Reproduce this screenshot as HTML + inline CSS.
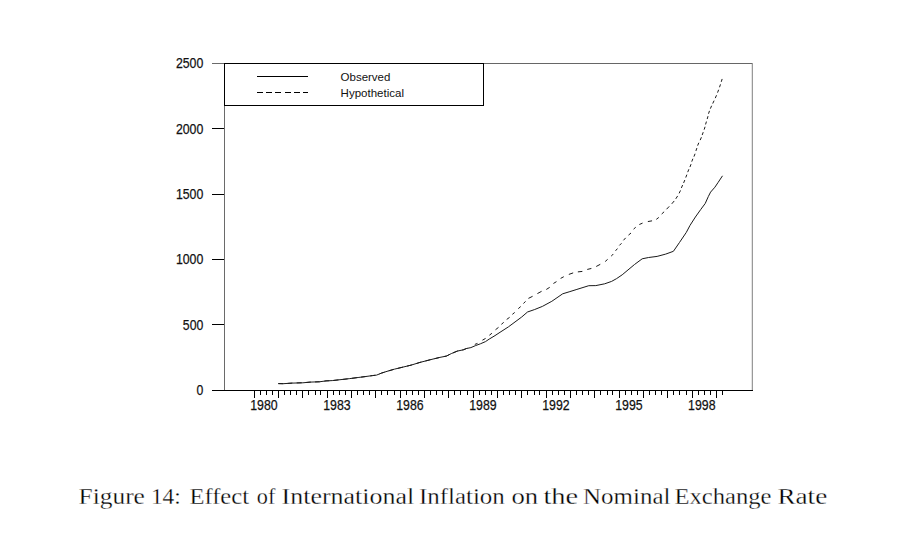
<!DOCTYPE html>
<html><head><meta charset="utf-8"><style>
html,body{margin:0;padding:0;background:#fff;}
body{width:910px;height:554px;overflow:hidden;position:relative;}
svg{position:absolute;left:0;top:0;}
</style></head><body>
<svg width="910" height="554" viewBox="0 0 910 554">
<g shape-rendering="crispEdges" stroke-width="1" fill="none">
<line x1="224.5" y1="63" x2="224.5" y2="390" stroke="#6a6a6a"/>
<line x1="224" y1="63.5" x2="753" y2="63.5" stroke="#666"/>
<line x1="752.5" y1="63" x2="752.5" y2="390" stroke="#999"/>
<line x1="751.5" y1="64" x2="751.5" y2="390" stroke="#e4e4e4"/>
<line x1="212" y1="390.5" x2="753" y2="390.5" stroke="#000"/>
<g stroke="#000">
<line x1="212" y1="63.5" x2="224" y2="63.5" stroke="#6a6a6a"/>
<line x1="212" y1="128.5" x2="224" y2="128.5"/>
<line x1="212" y1="194.5" x2="224" y2="194.5"/>
<line x1="212" y1="259.5" x2="224" y2="259.5"/>
<line x1="212" y1="324.5" x2="224" y2="324.5"/>
<line x1="212" y1="390.5" x2="224" y2="390.5"/>
<line x1="254.5" y1="390" x2="254.5" y2="398"/>
<line x1="260.5" y1="390" x2="260.5" y2="395"/>
<line x1="266.5" y1="390" x2="266.5" y2="395"/>
<line x1="272.5" y1="390" x2="272.5" y2="395"/>
<line x1="278.5" y1="390" x2="278.5" y2="398"/>
<line x1="284.5" y1="390" x2="284.5" y2="395"/>
<line x1="290.5" y1="390" x2="290.5" y2="395"/>
<line x1="296.5" y1="390" x2="296.5" y2="395"/>
<line x1="302.5" y1="390" x2="302.5" y2="398"/>
<line x1="308.5" y1="390" x2="308.5" y2="395"/>
<line x1="315.5" y1="390" x2="315.5" y2="395"/>
<line x1="320.5" y1="390" x2="320.5" y2="395"/>
<line x1="327.5" y1="390" x2="327.5" y2="398"/>
<line x1="333.5" y1="390" x2="333.5" y2="395"/>
<line x1="339.5" y1="390" x2="339.5" y2="395"/>
<line x1="345.5" y1="390" x2="345.5" y2="395"/>
<line x1="351.5" y1="390" x2="351.5" y2="398"/>
<line x1="357.5" y1="390" x2="357.5" y2="395"/>
<line x1="363.5" y1="390" x2="363.5" y2="395"/>
<line x1="369.5" y1="390" x2="369.5" y2="395"/>
<line x1="375.5" y1="390" x2="375.5" y2="398"/>
<line x1="381.5" y1="390" x2="381.5" y2="395"/>
<line x1="387.5" y1="390" x2="387.5" y2="395"/>
<line x1="394.5" y1="390" x2="394.5" y2="395"/>
<line x1="400.5" y1="390" x2="400.5" y2="398"/>
<line x1="406.5" y1="390" x2="406.5" y2="395"/>
<line x1="412.5" y1="390" x2="412.5" y2="395"/>
<line x1="418.5" y1="390" x2="418.5" y2="395"/>
<line x1="424.5" y1="390" x2="424.5" y2="398"/>
<line x1="430.5" y1="390" x2="430.5" y2="395"/>
<line x1="436.5" y1="390" x2="436.5" y2="395"/>
<line x1="442.5" y1="390" x2="442.5" y2="395"/>
<line x1="448.5" y1="390" x2="448.5" y2="398"/>
<line x1="454.5" y1="390" x2="454.5" y2="395"/>
<line x1="460.5" y1="390" x2="460.5" y2="395"/>
<line x1="467.5" y1="390" x2="467.5" y2="395"/>
<line x1="473.5" y1="390" x2="473.5" y2="398"/>
<line x1="479.5" y1="390" x2="479.5" y2="395"/>
<line x1="485.5" y1="390" x2="485.5" y2="395"/>
<line x1="491.5" y1="390" x2="491.5" y2="395"/>
<line x1="497.5" y1="390" x2="497.5" y2="398"/>
<line x1="503.5" y1="390" x2="503.5" y2="395"/>
<line x1="509.5" y1="390" x2="509.5" y2="395"/>
<line x1="515.5" y1="390" x2="515.5" y2="395"/>
<line x1="521.5" y1="390" x2="521.5" y2="398"/>
<line x1="527.5" y1="390" x2="527.5" y2="395"/>
<line x1="534.5" y1="390" x2="534.5" y2="395"/>
<line x1="539.5" y1="390" x2="539.5" y2="395"/>
<line x1="546.5" y1="390" x2="546.5" y2="398"/>
<line x1="552.5" y1="390" x2="552.5" y2="395"/>
<line x1="558.5" y1="390" x2="558.5" y2="395"/>
<line x1="564.5" y1="390" x2="564.5" y2="395"/>
<line x1="570.5" y1="390" x2="570.5" y2="398"/>
<line x1="576.5" y1="390" x2="576.5" y2="395"/>
<line x1="582.5" y1="390" x2="582.5" y2="395"/>
<line x1="588.5" y1="390" x2="588.5" y2="395"/>
<line x1="594.5" y1="390" x2="594.5" y2="398"/>
<line x1="600.5" y1="390" x2="600.5" y2="395"/>
<line x1="607.5" y1="390" x2="607.5" y2="395"/>
<line x1="612.5" y1="390" x2="612.5" y2="395"/>
<line x1="619.5" y1="390" x2="619.5" y2="398"/>
<line x1="625.5" y1="390" x2="625.5" y2="395"/>
<line x1="631.5" y1="390" x2="631.5" y2="395"/>
<line x1="637.5" y1="390" x2="637.5" y2="395"/>
<line x1="643.5" y1="390" x2="643.5" y2="398"/>
<line x1="649.5" y1="390" x2="649.5" y2="395"/>
<line x1="655.5" y1="390" x2="655.5" y2="395"/>
<line x1="661.5" y1="390" x2="661.5" y2="395"/>
<line x1="667.5" y1="390" x2="667.5" y2="398"/>
<line x1="673.5" y1="390" x2="673.5" y2="395"/>
<line x1="679.5" y1="390" x2="679.5" y2="395"/>
<line x1="686.5" y1="390" x2="686.5" y2="395"/>
<line x1="692.5" y1="390" x2="692.5" y2="398"/>
<line x1="698.5" y1="390" x2="698.5" y2="395"/>
<line x1="704.5" y1="390" x2="704.5" y2="395"/>
<line x1="710.5" y1="390" x2="710.5" y2="395"/>
<line x1="716.5" y1="390" x2="716.5" y2="398"/>
<line x1="722.5" y1="390" x2="722.5" y2="395"/>
</g>
<rect x="224.5" y="63.5" width="259" height="42" stroke="#000" fill="#fff"/>
<line x1="257" y1="76.5" x2="308" y2="76.5" stroke="#000"/>
<line x1="257" y1="92.5" x2="308" y2="92.5" stroke="#000" stroke-dasharray="6 3.2"/>
</g>
<g font-family="Liberation Sans, Arial, sans-serif" fill="#111" stroke="#111" stroke-width="0.25">
<g font-size="14.8px">
<text x="203.3" y="68" text-anchor="end" textLength="27.4" lengthAdjust="spacingAndGlyphs">2500</text>
<text x="203.3" y="134" text-anchor="end" textLength="27.4" lengthAdjust="spacingAndGlyphs">2000</text>
<text x="203.3" y="199" text-anchor="end" textLength="27.4" lengthAdjust="spacingAndGlyphs">1500</text>
<text x="203.3" y="264" text-anchor="end" textLength="27.4" lengthAdjust="spacingAndGlyphs">1000</text>
<text x="203.3" y="330" text-anchor="end" textLength="20.5" lengthAdjust="spacingAndGlyphs">500</text>
<text x="203.3" y="395" text-anchor="end" textLength="6.8" lengthAdjust="spacingAndGlyphs">0</text>
<text x="250.2" y="410.0" textLength="27.4" lengthAdjust="spacingAndGlyphs">1980</text>
<text x="323.2" y="410.0" textLength="27.4" lengthAdjust="spacingAndGlyphs">1983</text>
<text x="396.2" y="410.0" textLength="27.4" lengthAdjust="spacingAndGlyphs">1986</text>
<text x="469.2" y="410.0" textLength="27.4" lengthAdjust="spacingAndGlyphs">1989</text>
<text x="542.2" y="410.0" textLength="27.4" lengthAdjust="spacingAndGlyphs">1992</text>
<text x="615.2" y="410.0" textLength="27.4" lengthAdjust="spacingAndGlyphs">1995</text>
<text x="688.1" y="410.0" textLength="27.4" lengthAdjust="spacingAndGlyphs">1998</text>
</g>
<text x="340.6" y="80.8" font-size="11px" stroke="none" textLength="49.8" lengthAdjust="spacingAndGlyphs">Observed</text>
<text x="340.6" y="96.8" font-size="11px" stroke="none" textLength="63.4" lengthAdjust="spacingAndGlyphs">Hypothetical</text>
</g>
<polyline points="278.3,383.6 283.1,383.7 292.5,383.1 302.9,382.8 310.1,382.1 319.4,381.8 326.0,380.9 332.2,380.6 341.0,379.6 349.8,378.6 358.1,377.5 365.2,376.6 372.4,375.6 376.6,375.1 381.5,373.1 388.1,371.0 394.7,369.1 403.0,367.1 411.2,365.1 420.0,362.4 430.0,359.8 439.8,357.4 446.4,356.1 451.3,353.6 457.3,351.1 463.3,349.8 466.5,348.5 470.9,347.6 475.3,345.7 480.4,343.8 485.5,341.6 489.2,339.1 495.0,335.6 500.0,332.3 508.5,326.8 521.7,317.0 527.5,312.0 534.7,309.5 542.4,306.4 551.8,301.3 562.7,293.8 569.9,291.6 576.9,289.4 588.8,285.7 595.8,285.6 604.7,283.8 611.6,281.4 616.6,278.6 622.2,274.8 634.5,264.5 642.2,258.8 648.6,257.5 657.1,256.4 665.7,254.1 673.4,251.3 679.4,242.6 686.3,232.4 690.0,225.4 695.4,217.0 700.8,209.4 705.2,203.5 708.4,196.4 710.6,192.1 714.9,187.2 718.2,182.3 722.5,175.8" fill="none" stroke="#1a1a1a" stroke-width="1.0" stroke-linejoin="round"/>
<path d="M278.30,383.60 L283.10,383.70 L283.30,383.69 M287.50,383.40 L292.50,383.05 M296.70,382.93 L301.70,382.78 M305.90,382.50 L310.10,382.15 L310.90,382.12 M315.10,381.93 L319.40,381.75 L320.10,381.66 M324.30,381.12 L326.00,380.90 L329.30,380.74 M333.50,380.45 L338.50,379.88 M342.70,379.41 L342.70,379.41 L347.70,378.84 M351.90,378.32 L356.90,377.66 M361.10,377.12 L365.20,376.60 L366.10,376.48 M370.30,375.89 L370.30,375.89 L372.40,375.60 L375.30,375.25 M379.50,373.92 L379.50,373.92 L381.50,373.10 L384.50,372.15 M388.70,370.83 L393.70,369.39 M397.90,368.33 L402.90,367.12 M407.10,366.10 L407.10,366.10 L411.20,365.10 L412.10,364.82 M416.30,363.54 L416.30,363.54 L420.00,362.40 L421.30,362.06 M425.50,360.97 L430.00,359.80 L430.50,359.68 M434.70,358.67 L434.70,358.67 L439.70,357.47 M443.90,356.58 L446.40,356.05 L448.90,354.80 M453.10,352.85 L453.10,352.85 L457.30,351.10 L458.10,350.93 M462.30,350.02 L463.30,349.80 L466.50,348.50 L467.30,348.34 M474.83,344.41 L477.47,343.39 M482.42,340.18 L485.58,338.42 M489.40,335.24 L491.90,333.26 M495.50,329.74 L498.50,327.36 M501.39,324.34 L503.71,322.36 M506.70,319.45 L509.60,317.35 M512.39,314.34 L514.71,312.46 M518.29,308.64 L520.71,306.56 M523.47,303.52 L525.53,301.38 M528.42,298.39 L532.58,296.31 M537.42,293.58 L541.58,291.32 M546.31,289.47 L549.69,287.33 M553.41,283.47 L556.49,281.63 M560.62,278.38 L563.78,276.72 M568.84,274.42 L573.16,272.88 M577.85,271.88 L582.35,271.42 M587.24,269.44 L591.36,268.46 M596.22,266.48 L600.28,264.32 M605.19,261.53 L607.61,259.37 M611.18,256.12 L613.32,253.98 M615.56,250.81 L617.44,248.59 M619.38,245.42 L621.52,243.28 M623.47,240.31 L625.63,237.89 M628.49,235.14 L631.01,233.01 M633.59,229.13 L635.71,227.27 M639.33,224.50 L642.57,223.10 M647.85,221.56 L652.05,220.84 M656.30,219.35 L658.80,217.45 M661.68,214.03 L664.12,211.77 M666.54,209.24 L669.26,206.36 M671.78,203.84 L674.22,200.96 M675.77,198.84 L677.63,195.96 M679.10,193.34 L680.50,190.46 M681.39,187.94 L682.61,185.06 M683.61,182.94 L684.79,180.06 M685.75,177.54 L686.85,174.66 M687.73,172.14 L688.87,169.26 M689.95,167.04 L691.05,164.16 M691.75,161.64 L692.85,158.76 M693.95,156.64 L695.05,153.76 M695.92,150.94 L696.88,148.06 M697.61,145.64 L698.79,142.76 M700.19,140.14 L701.41,137.26 M702.18,135.04 L703.22,132.16 M704.15,129.64 L705.05,126.76 M705.59,124.44 L706.41,121.56 M707.20,119.04 L708.00,116.16 M708.53,113.74 L709.47,110.86 M710.38,108.64 L711.62,105.76 M712.73,103.54 L714.07,100.66 M715.28,98.14 L716.52,95.26 M717.56,92.64 L718.64,89.76 M719.52,87.24 L720.48,84.36 M721.25,81.84 L722.15,78.96" fill="none" stroke="#1a1a1a" stroke-width="1.0"/>
</svg>
<svg width="910" height="554" viewBox="0 0 910 554"><g font-family="Liberation Serif, serif" font-size="23.7px" fill="#000" stroke="#fff" stroke-width="0.3"><text x="78.50" y="503.6" textLength="66.42" lengthAdjust="spacingAndGlyphs">Figure</text>
<text x="150.90" y="503.6" textLength="29.84" lengthAdjust="spacingAndGlyphs">14:</text>
<text x="189.40" y="503.6" textLength="59.65" lengthAdjust="spacingAndGlyphs">Effect</text>
<text x="256.80" y="503.6" textLength="18.56" lengthAdjust="spacingAndGlyphs">of</text>
<text x="281.60" y="503.6" textLength="132.60" lengthAdjust="spacingAndGlyphs">International</text>
<text x="418.90" y="503.6" textLength="85.92" lengthAdjust="spacingAndGlyphs">Inflation</text>
<text x="511.40" y="503.6" textLength="26.66" lengthAdjust="spacingAndGlyphs">on</text>
<text x="543.40" y="503.6" textLength="34.70" lengthAdjust="spacingAndGlyphs">the</text>
<text x="583.10" y="503.6" textLength="87.37" lengthAdjust="spacingAndGlyphs">Nominal</text>
<text x="674.40" y="503.6" textLength="97.07" lengthAdjust="spacingAndGlyphs">Exchange</text>
<text x="777.40" y="503.6" textLength="49.85" lengthAdjust="spacingAndGlyphs">Rate</text></g></svg>
</body></html>
